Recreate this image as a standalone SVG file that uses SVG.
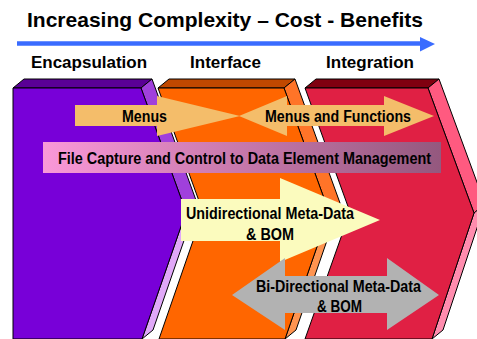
<svg xmlns="http://www.w3.org/2000/svg" width="477" height="339" viewBox="0 0 477 339">
<defs>
<style>
.t{font-family:"Liberation Sans",Arial,sans-serif;font-weight:bold;fill:#000}
.ln{stroke:#000;stroke-width:1;stroke-linejoin:miter}
</style>
<linearGradient id="gFile" x1="0" y1="0" x2="1" y2="0">
<stop offset="0" stop-color="#fa98d8"/>
<stop offset="1" stop-color="#94587e"/>
</linearGradient>
</defs>
<rect width="477" height="339" fill="#fff"/>
<g id="title">
<text class="t" x="27" y="27" font-size="21" textLength="396" lengthAdjust="spacingAndGlyphs">Increasing Complexity – Cost - Benefits</text>
<line x1="17" y1="43.5" x2="423" y2="43.5" stroke="#3a6cff" stroke-width="4.5"/>
<polygon points="420,37 435,44 420,51.5" fill="#3a6cff"/>
</g>
<g id="encapsulation">
<polygon class="ln" points="13,88 24,79 152,79 141,88" fill="#5a0096"/>
<polygon class="ln" points="141,88 152,79 197,203 186,212" fill="#a040dc"/>
<polygon class="ln" points="186,212 197,203 153,330 142,339" fill="#e0a8f8"/>
<polygon class="ln" points="13,88 141,88 186,212 142,339 13,339" fill="#7800d8"/>
<text class="t" x="89" y="68" font-size="17" text-anchor="middle">Encapsulation</text>
</g>
<g id="interface">
<polygon class="ln" points="158,88 169,79 295,79 284,88" fill="#c04800"/>
<polygon class="ln" points="284,88 295,79 340,203 329,212" fill="#ff7428"/>
<polygon class="ln" points="329,212 340,203 296,330 285,339" fill="#ff9450"/>
<polygon class="ln" points="158,88 284,88 329,212 285,339 159,339 203,212" fill="#ff6600"/>
<text class="t" x="225.5" y="68" font-size="17" text-anchor="middle">Interface</text>
</g>
<g id="integration">
<polygon class="ln" points="305,88 316,79 439,79 428,88" fill="#800010"/>
<polygon class="ln" points="428,88 439,79 485,204 474,213" fill="#ff5a80"/>
<polygon class="ln" points="474,213 485,204 443,330 432,339" fill="#ff8cae"/>
<polygon class="ln" points="305,88 428,88 474,213 432,339 305,339 350,212" fill="#e02044"/>
<text class="t" x="370" y="68" font-size="17" text-anchor="middle">Integration</text>
</g>
<g id="menus">
<polygon points="75,105 157,105 157,96 240,116 157,136 157,126 75,126" fill="#f4bd6a"/>
<text class="t" x="144.5" y="122" font-size="16" text-anchor="middle" textLength="45" lengthAdjust="spacingAndGlyphs">Menus</text>
</g>
<g id="menus-functions">
<polygon points="239,116 287,96 287,105 384,105 384,96 434,116 384,136 384,126 287,126 287,136" fill="#f4bd6a"/>
<text class="t" x="338" y="122" font-size="16" text-anchor="middle" textLength="146" lengthAdjust="spacingAndGlyphs">Menus and Functions</text>
</g>
<g id="file-capture">
<rect x="43" y="142" width="398" height="31" fill="url(#gFile)"/>
<text class="t" x="244.5" y="164" font-size="16" text-anchor="middle" textLength="373" lengthAdjust="spacingAndGlyphs">File Capture and Control to Data Element Management</text>
</g>
<g id="unidirectional">
<polygon points="181,199 280,199 280,178 380,220 280,262 280,241 181,241" fill="#fbfbbe"/>
<text class="t" x="270" y="219" font-size="16" text-anchor="middle" textLength="168" lengthAdjust="spacingAndGlyphs">Unidirectional Meta-Data</text>
<text class="t" x="270" y="240" font-size="16" text-anchor="middle" textLength="48" lengthAdjust="spacingAndGlyphs">&amp; BOM</text>
</g>
<g id="bidirectional">
<polygon points="232,295 285,258 285,276 387,276 387,258 439,295 387,330 387,313 285,313 285,330" fill="#b2b2b2"/>
<text class="t" x="338.5" y="292" font-size="16" text-anchor="middle" textLength="165" lengthAdjust="spacingAndGlyphs">Bi-Directional Meta-Data</text>
<text class="t" x="339.5" y="312" font-size="16" text-anchor="middle" textLength="45" lengthAdjust="spacingAndGlyphs">&amp; BOM</text>
</g>
<g id="connectors"/>
</svg>
